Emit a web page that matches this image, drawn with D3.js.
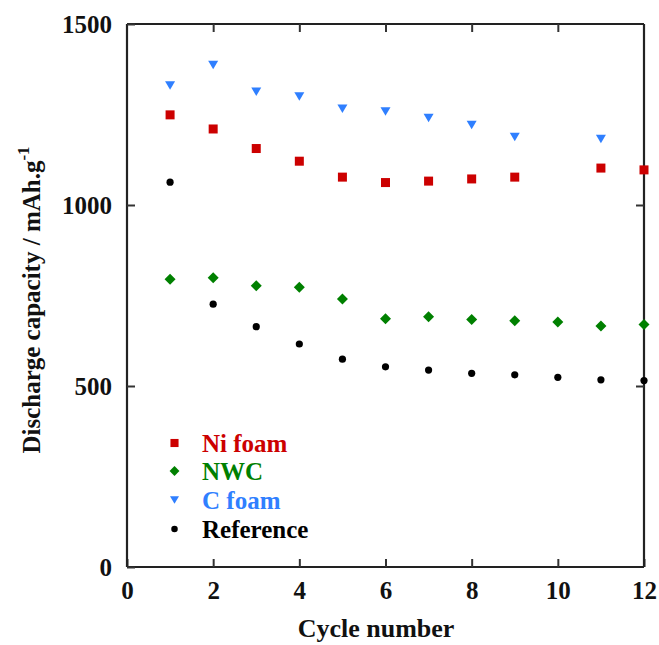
<!DOCTYPE html>
<html><head><meta charset="utf-8">
<script src="https://cdn.jsdelivr.net/npm/d3@7"></script>
<style>body{margin:0;background:#fff}svg{display:block}</style>
</head><body>
<script>
const xTicks = [0, 2, 4, 6, 8, 10, 12];
const yTicks = [0, 500, 1000, 1500];
const niCycles = [1, 2, 3, 4, 5, 6, 7, 8, 9, 11, 12];
const niValues = [1249, 1210, 1156, 1121, 1077, 1062, 1066, 1072, 1077, 1102, 1097];
const nwcCycles = [1, 2, 3, 4, 5, 6, 7, 8, 9, 10, 11, 12];
const nwcValues = [795, 799, 777, 773, 740, 686, 691, 684, 680, 677, 666, 670];
const cCycles = [1, 2, 3, 4, 5, 6, 7, 8, 9, 11];
const cValues = [1330, 1387, 1313, 1300, 1266, 1258, 1240, 1221, 1188, 1182];
const refCycles = [1, 2, 3, 4, 5, 6, 7, 8, 9, 10, 11, 12];
const refValues = [1063, 726, 664, 616, 574, 553, 544, 535, 531, 524, 517, 515];
const seriesNames = ["Ni foam", "NWC", "C foam", "Reference"];

(function () {
const W = 659, H = 645;
const m = {l: 127, r: 15, t: 24, b: 78};
const font = "'Liberation Serif','Times New Roman',serif";
const svg = d3.select("body").append("svg").attr("width", W).attr("height", H);
const x = d3.scaleLinear().domain([0, 12]).range([m.l, W - m.r]);
const y = d3.scaleLinear().domain([0, 1500]).range([H - m.b, m.t]);

const series = [
  {name: seriesNames[0], xs: niCycles, ys: niValues, color: "#cc0000", shape: "square"},
  {name: seriesNames[1], xs: nwcCycles, ys: nwcValues, color: "#008000", shape: "diamond"},
  {name: seriesNames[2], xs: cCycles, ys: cValues, color: "#2f7fff", shape: "tri"},
  {name: seriesNames[3], xs: refCycles, ys: refValues, color: "#000000", shape: "circle"}
];

function marker(g, shape, color, cx, cy, s) {
  s = s || 1;
  if (shape === "square") {
    g.append("rect").attr("x", cx - 4.5 * s).attr("y", cy - 4.5 * s).attr("width", 9 * s).attr("height", 9 * s).attr("fill", color);
  } else if (shape === "diamond") {
    const r = 5.5 * s;
    g.append("path").attr("d", `M${cx},${cy - r}L${cx + r},${cy}L${cx},${cy + r}L${cx - r},${cy}Z`).attr("fill", color);
  } else if (shape === "tri") {
    const w = 5 * s, h = 8.5 * s;
    g.append("path").attr("d", `M${cx - w},${cy - h / 2}L${cx + w},${cy - h / 2}L${cx},${cy + h / 2}Z`).attr("fill", color);
  } else {
    g.append("circle").attr("cx", cx).attr("cy", cy).attr("r", 3.6 * s).attr("fill", color);
  }
}

const axG = svg.append("g");
const axBottom = d3.axisBottom(x).tickValues(xTicks).tickSize(-8).tickPadding(14).tickFormat(d3.format("d"));
const axTop = d3.axisTop(x).tickValues(xTicks.filter(d => d > 0 && d < 12)).tickSize(-8).tickFormat("");
const axLeft = d3.axisLeft(y).tickValues(yTicks).tickSize(-8).tickPadding(15).tickFormat(d3.format("d"));
const axRight = d3.axisRight(y).tickValues(yTicks.filter(d => d > 0 && d < 1500)).tickSize(-8).tickFormat("");

function styleAx(g) {
  g.select(".domain").attr("stroke", "#222").attr("stroke-width", 2.2);
  g.selectAll(".tick line").attr("stroke", "#333").attr("stroke-width", 2);
  g.selectAll(".tick text").attr("fill", "#111").attr("font-family", font).attr("font-weight", "bold").attr("font-size", 25);
}
axG.append("g").attr("transform", `translate(0,${H - m.b})`).call(axBottom).call(g => g.select(".domain").attr("d", `M${m.l},0H${W - m.r}`)).call(styleAx);
axG.append("g").attr("transform", `translate(0,${m.t})`).call(axTop).call(g => g.select(".domain").attr("d", `M${m.l},0H${W - m.r}`)).call(styleAx);
axG.append("g").attr("transform", `translate(${m.l},0)`).call(axLeft).call(g => g.select(".domain").attr("d", `M0,${m.t}V${H - m.b}`)).call(styleAx);
axG.append("g").attr("transform", `translate(${W - m.r},0)`).call(axRight).call(g => g.select(".domain").attr("d", `M0,${m.t}V${H - m.b}`)).call(styleAx);

series.forEach(s => {
  const g = svg.append("g");
  s.xs.forEach((c, i) => marker(g, s.shape, s.color, x(c), y(s.ys[i])));
});

const lg = svg.append("g").attr("font-family", font).attr("font-weight", "bold").attr("font-size", 25);
const legY = [443, 471, 500, 529];
series.forEach((s, i) => {
  marker(lg, s.shape, s.color, 174.5, legY[i], 0.9);
  lg.append("text").attr("x", 202).attr("y", legY[i]).attr("dy", "0.35em").attr("fill", s.color).text(s.name);
});

svg.append("text").attr("x", 376).attr("y", 637).attr("text-anchor", "middle")
  .attr("font-family", font).attr("font-weight", "bold").attr("font-size", 26).attr("fill", "#111").text("Cycle number");
const yt = svg.append("text").attr("transform", "translate(40,300) rotate(-90)").attr("text-anchor", "middle")
  .attr("font-family", font).attr("font-weight", "bold").attr("font-size", 25).attr("fill", "#111");
yt.append("tspan").text("Discharge capacity / mAh.g");
yt.append("tspan").attr("dy", -11).attr("font-size", 17).text("-1");
})();
</script>
</body></html>
